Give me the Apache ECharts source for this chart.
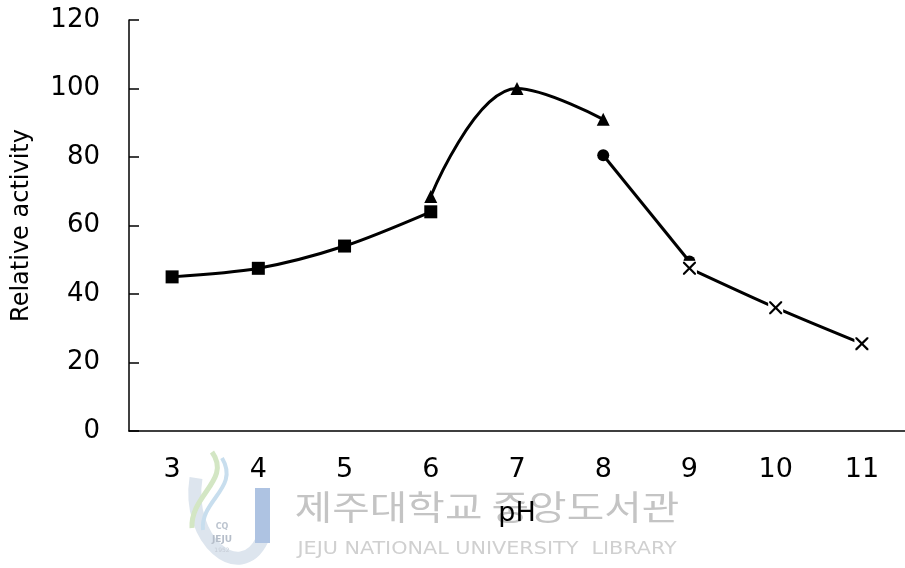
<!DOCTYPE html>
<html>
<head>
<meta charset="utf-8">
<script src="https://cdn.jsdelivr.net/npm/echarts@6/dist/echarts.min.js"></script>
<style>
  html, body { margin: 0; padding: 0; background: #fff; }
  #chart { width: 905px; height: 568px; }
</style>
</head>
<body>
<div id="chart"></div>
<script>
// pH categories on the x axis
const phLabels = ['3', '4', '5', '6', '7', '8', '9', '10', '11'];
// Relative activity per buffer system (null where a buffer was not used)
const squareVals   = [45, 47.5, 54, 64, null, null, null, null, null];
const triangleVals = [null, null, null, 68.5, 100, 91, null, null, null];
const circleVals   = [null, null, null, null, null, 80.5, 49.5, null, null];
const crossVals    = [null, null, null, null, null, null, 47.5, 36, 25.5];
const yTicks = { min: 0, max: 120, interval: 20 };

const FONT = '"DejaVu Sans", sans-serif';
const crossPath = 'path://M0,0 L2.4,0 L10,7.6 L17.6,0 L20,0 L20,2.4 L12.4,10 L20,17.6 L20,20 L17.6,20 L10,12.4 L2.4,20 L0,20 L0,17.6 L7.6,10 L0,2.4 Z';

const chart = echarts.init(document.getElementById('chart'), null, { renderer: 'canvas' });

const baseLine = { color: '#000', width: 3 };

chart.setOption({
  animation: false,
  backgroundColor: '#fff',
  grid: { left: 129, right: 0, top: 20, bottom: 137, containLabel: false, outerBoundsMode: 'none' },
  graphic: [
    // library watermark beneath the plot
    {
      type: 'group', z: -10, silent: true,
      children: [
        // emblem: pale crescent, blue J stroke and two swooshes
        { type: 'bezierCurve', shape: { x1: 196, y1: 478, x2: 262, y2: 540, cpx1: 186, cpy1: 540, cpx2: 240, cpy2: 585 }, style: { stroke: '#dde5ee', lineWidth: 13, fill: null } },
        { type: 'rect', shape: { x: 255, y: 488, width: 15, height: 55 }, style: { fill: '#aec3e2' } },
        { type: 'bezierCurve', shape: { x1: 212, y1: 452, x2: 192, y2: 528, cpx1: 232, cpy1: 480, cpx2: 190, cpy2: 495 }, style: { stroke: '#d3e6c4', lineWidth: 5, fill: null } },
        { type: 'bezierCurve', shape: { x1: 222, y1: 458, x2: 203, y2: 530, cpx1: 240, cpy1: 488, cpx2: 200, cpy2: 500 }, style: { stroke: '#c8deee', lineWidth: 4, fill: null } },
        { type: 'text', style: { x: 222, y: 527, text: 'CQ', fill: '#bcc4cf', font: 'bold 8px "DejaVu Sans"', align: 'center', verticalAlign: 'middle' } },
        { type: 'text', style: { x: 222, y: 540, text: 'JEJU', fill: '#b5bdc9', font: 'bold 9px "DejaVu Sans"', align: 'center', verticalAlign: 'middle' } },
        { type: 'text', style: { x: 222, y: 550, text: '1952', fill: '#c6ccd6', font: '6px "DejaVu Sans"', align: 'center', verticalAlign: 'middle' } },
        { type: 'text', x: 487, y: 507, scaleX: 1.2, style: { x: 0, y: 0, text: '제주대학교 중앙도서관', fill: '#c4c4c4', font: '34px "Noto Sans CJK KR"', align: 'center', verticalAlign: 'middle' } },
        { type: 'text', x: 487, y: 549, scaleX: 1.28, style: { x: 0, y: 0, text: 'JEJU NATIONAL UNIVERSITY  LIBRARY', fill: '#d0d0d0', font: '18px "DejaVu Sans Condensed", sans-serif', align: 'center', verticalAlign: 'middle' } }
      ]
    }
  ],
  xAxis: {
    type: 'category',
    data: phLabels,
    boundaryGap: true,
    name: 'pH',
    nameLocation: 'middle',
    nameGap: 69,
    nameTextStyle: { color: '#000', fontSize: 27, fontFamily: FONT },
    axisLine: { lineStyle: { color: '#000', width: 1.5 } },
    axisTick: { inside: true, length: 10, lineStyle: { color: '#000', width: 1.5 } },
    axisLabel: { color: '#000', fontSize: 27, fontFamily: FONT, margin: 25 },
    splitLine: { show: false }
  },
  yAxis: {
    type: 'value',
    min: yTicks.min, max: yTicks.max, interval: yTicks.interval,
    name: 'Relative activity',
    nameLocation: 'middle',
    nameGap: 95,
    nameTextStyle: { color: '#000', fontSize: 24, fontFamily: FONT },
    axisLine: { show: true, lineStyle: { color: '#000', width: 1.5 } },
    axisTick: { show: true, inside: true, length: 10, lineStyle: { color: '#000', width: 1.5 } },
    axisLabel: { color: '#000', fontSize: 26, fontFamily: FONT, margin: 29 },
    splitLine: { show: false }
  },
  series: [
    {
      name: 'square', type: 'line', data: squareVals, smooth: 0.3,
      symbol: 'rect', symbolSize: 13,
      itemStyle: { color: '#000' }, lineStyle: baseLine, z: 3
    },
    {
      name: 'triangle', type: 'line', data: triangleVals, smooth: 0.4,
      symbol: 'triangle', symbolSize: 13,
      itemStyle: { color: '#000' }, lineStyle: baseLine, z: 3
    },
    {
      name: 'circle', type: 'line', data: circleVals, smooth: false,
      symbol: 'circle', symbolSize: 12,
      itemStyle: { color: '#000' }, lineStyle: baseLine, z: 3
    },
    {
      // line plus white backing squares that leave a gap around each cross
      name: 'cross-line', type: 'line', data: crossVals, smooth: 0.3,
      symbol: 'rect', symbolSize: 15,
      itemStyle: { color: '#fff' }, lineStyle: baseLine, z: 4
    },
    {
      name: 'cross', type: 'line', data: crossVals,
      symbol: crossPath, symbolSize: 13,
      itemStyle: { color: '#000' }, lineStyle: { opacity: 0 }, z: 5
    }
  ]
});
</script>
</body>
</html>
